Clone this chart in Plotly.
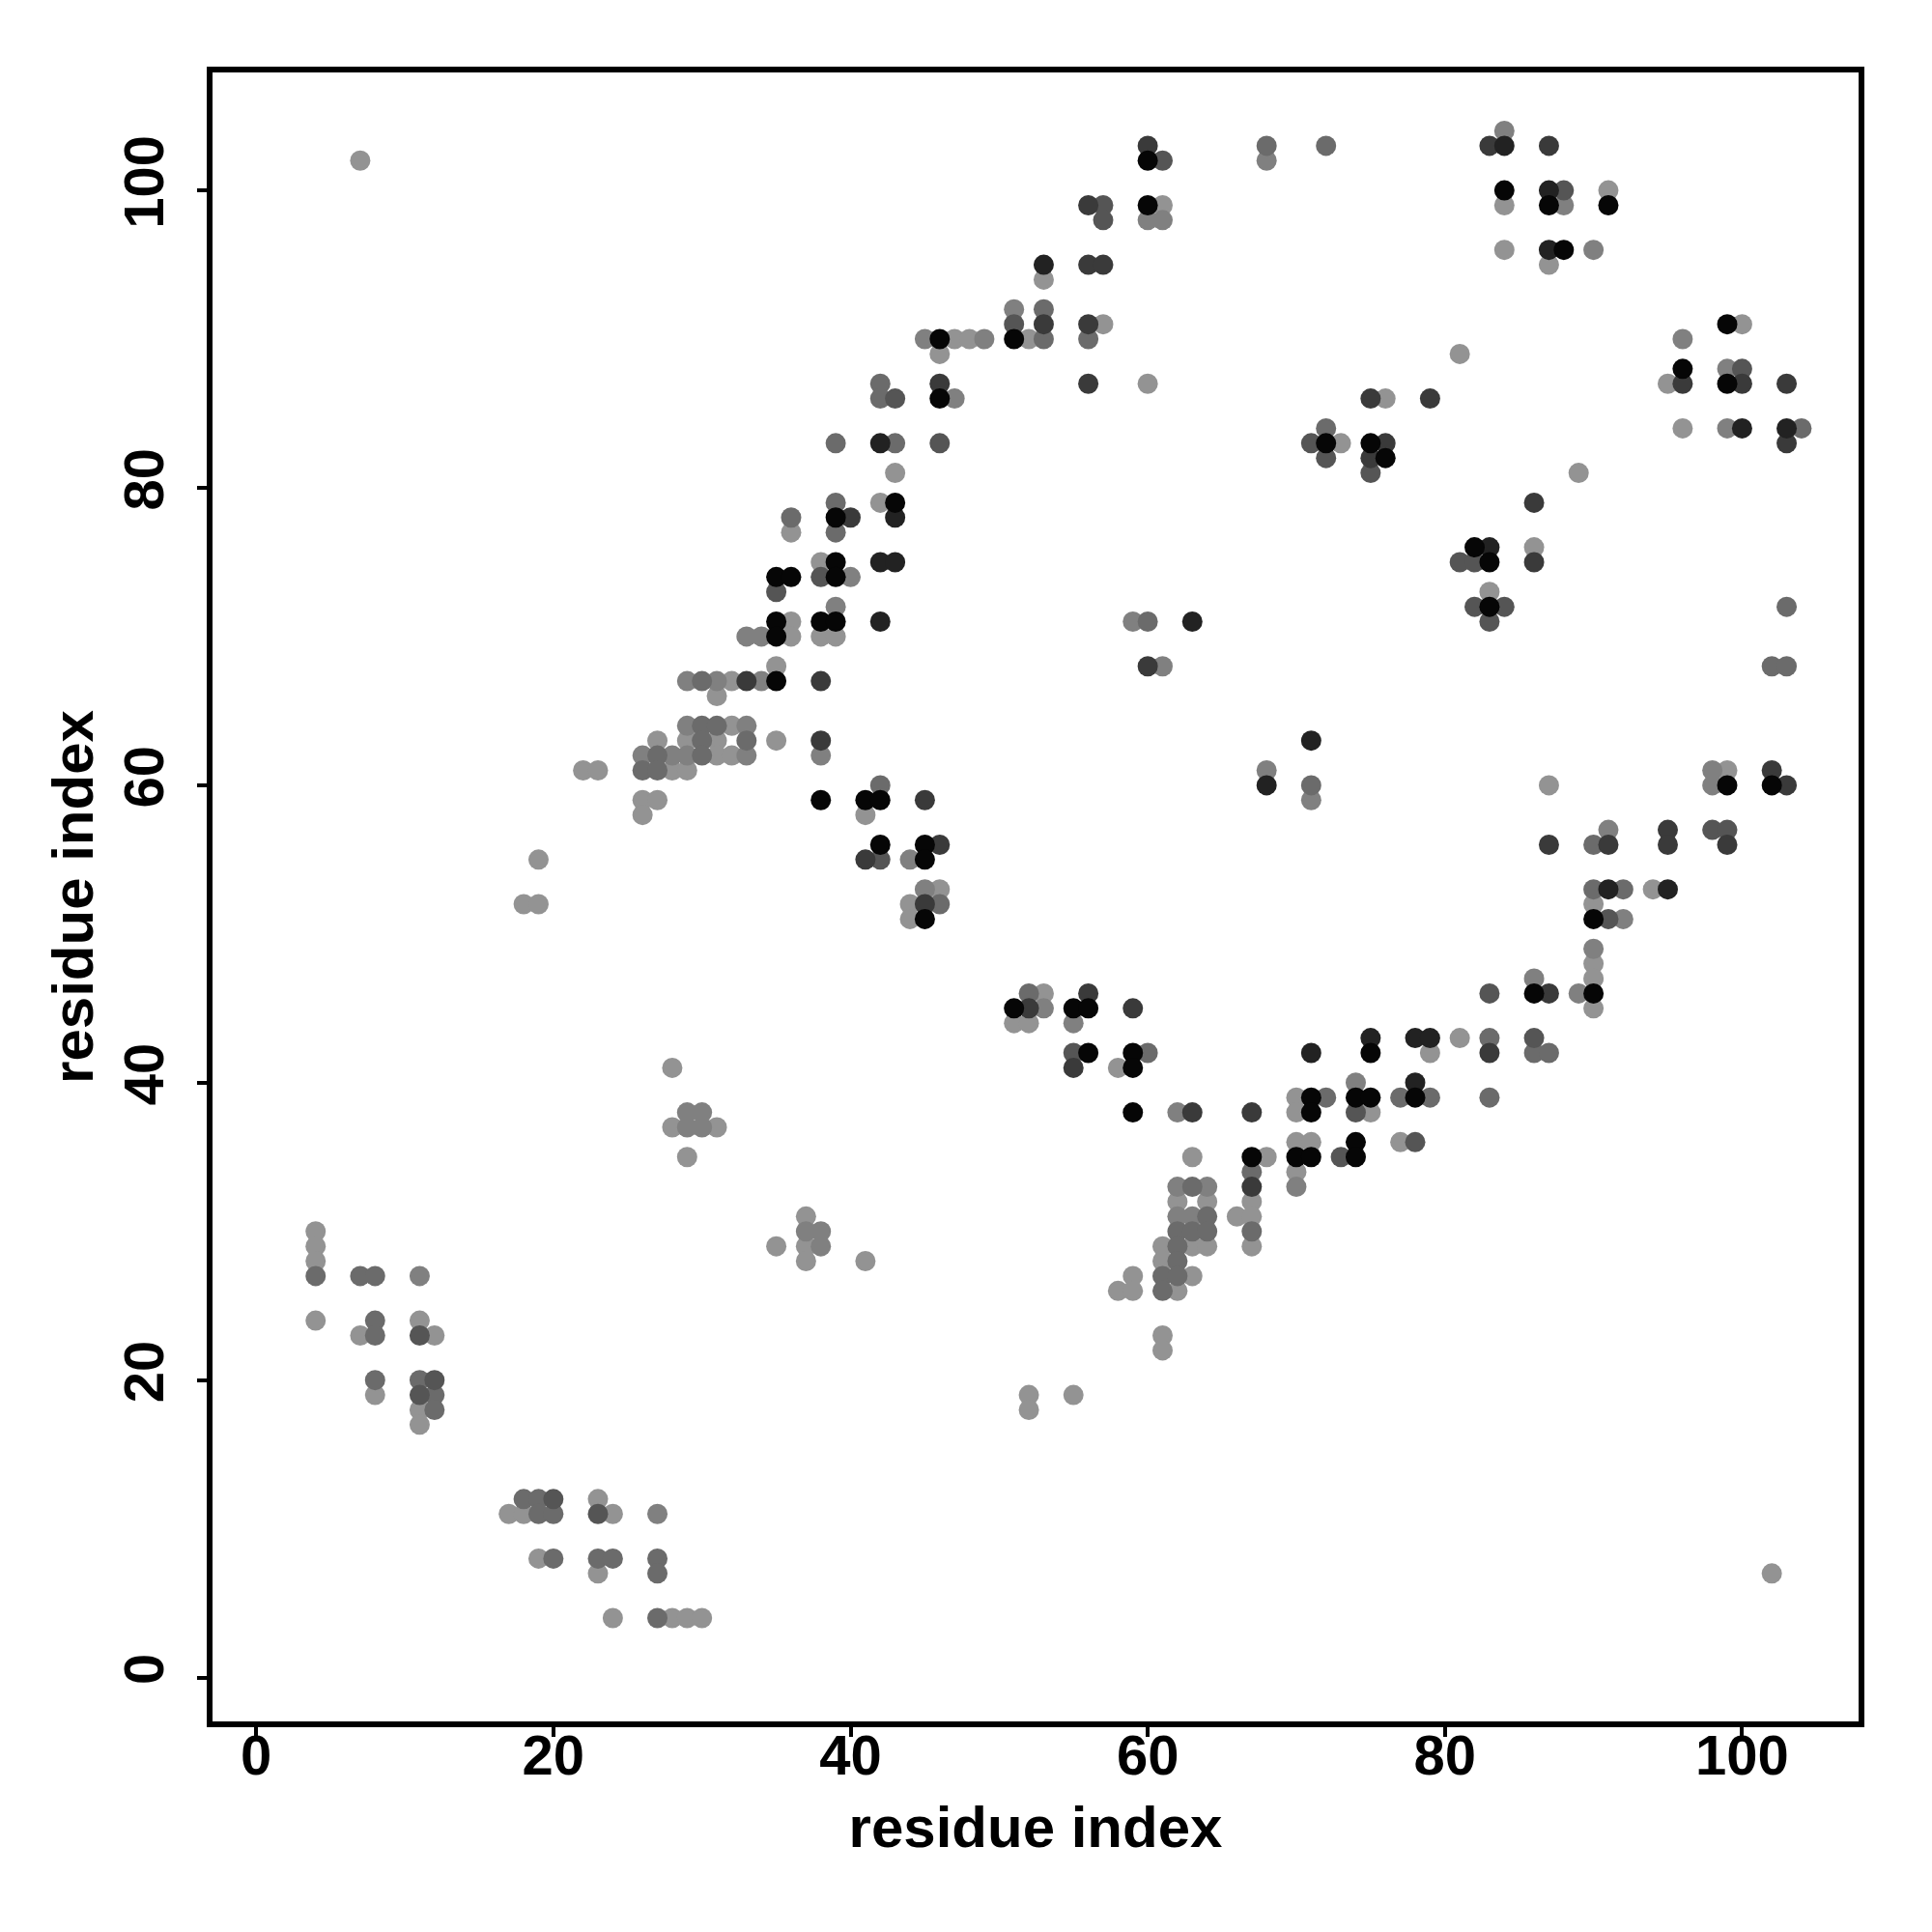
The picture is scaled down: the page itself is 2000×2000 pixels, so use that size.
import plotly.graph_objects as go

tick_values = [0, 20, 40, 60, 80, 100]
axis_label = "residue index"

# contacts by grey level: (residue i, residue j)
light = [(7,102),(61,99),(84,99),(84,96),(87,95),(53,94),(57,91),(100,91),(47,90),(48,90),(52,90),(46,89),(81,89),
 (60,87),(95,87),(96,84),(73,83),(43,81),(89,81),(42,79),(36,77),(86,76),(38,75),(83,73),(36,71),(36,70),(38,70),(39,70),
 (35,68),(32,67),(31,66),(32,64),(27,63),(29,63),(31,63),(35,63),(31,62),(32,62),(22,61),(23,61),(28,61),(29,61),
 (87,60),(26,59),(27,59),(26,58),(41,58),(19,55),(46,53),(94,53),(18,52),(19,52),(44,52),(90,52),(44,51),(90,48),(90,47),
 (53,46),(90,45),(51,44),(52,44),(81,43),(79,42),(28,41),(58,41),(70,39),(70,38),(75,38),(70,36),(71,36),(77,36),
 (29,35),(63,35),(68,35),(70,34),(62,32),(64,32),(67,32),(37,31),(66,31),(67,31),(4,30),(4,29),(35,29),(37,29),(61,29),
 (63,29),(64,29),(67,29),(4,28),(37,28),(41,28),(61,28),(59,27),(63,27),(58,26),(59,26),(62,26),(4,24),(11,24),(7,23),
 (12,23),(61,23),(61,22),(8,19),(52,19),(55,19),(11,18),(52,18),(11,17),(23,12),(17,11),(18,11),(24,11),(19,8),(23,7),
 (102,7),(24,4),(28,4),(29,4),(30,4),(28,37),(31,37),(91,100),(76,86),(99,61)]
mid_light = [(84,104),(68,102),(88,99),(60,98),(61,98),(51,92),(45,90),(49,90),(96,90),(99,88),(47,86),(99,84),(40,74),
 (39,72),(33,70),(34,70),(29,67),(34,67),(29,64),(33,64),(26,62),(28,62),(29,62),(33,62),(38,62),(59,71),(68,61),(98,61),
 (98,60),(71,59),(91,57),(45,53),(92,51),(90,49),(86,47),(89,46),(53,45),(55,44),(62,38),(29,38),(30,38),(29,37),(30,37),
 (62,33),(64,33),(70,33),(62,31),(63,31),(37,30),(38,30),(38,29),(11,27),(27,11),(61,68),(31,67),(44,55),(74,40),(90,96)]
mid = [(68,103),(72,103),(53,92),(53,90),(56,90),(42,87),(42,86),(72,84),(104,84),(39,83),(43,83),(39,79),(36,78),(39,77),
 (103,72),(102,68),(103,68),(30,67),(30,64),(31,64),(30,63),(33,63),(27,62),(30,62),(26,61),(27,61),(42,60),(71,60),(90,56),
 (90,53),(92,53),(46,52),(52,46),(83,43),(60,42),(86,42),(87,42),(72,39),(77,39),(79,39),(83,39),(67,34),(63,33),(64,31),
 (62,30),(63,30),(64,30),(67,30),(62,29),(62,28),(4,27),(7,27),(8,27),(61,27),(62,27),(61,26),(8,24),(8,23),(8,20),(11,20),
 (12,19),(12,18),(18,12),(19,12),(19,11),(20,11),(20,8),(23,8),(24,8),(27,8),(27,7),(27,4),(60,71)]
mid_dark = [(61,102),(57,99),(57,98),(51,91),(43,86),(46,83),(71,83),(72,82),(75,81),(81,75),(82,75),(82,72),(84,72),(38,74),
 (35,73),(83,71),(42,55),(98,57),(99,57),(91,51),(83,46),(86,43),(55,42),(74,38),(78,36),(73,35),(11,23),(12,20),(11,19),
 (20,12),(23,11),(88,100),(100,88)]
dark = [(60,103),(83,103),(87,103),(56,99),(56,95),(57,95),(53,91),(56,91),(46,87),(56,87),(96,87),(100,87),(103,87),(75,86),
 (79,86),(76,83),(103,83),(75,82),(86,79),(40,78),(86,75),(33,67),(38,67),(38,63),(60,68),(102,61),(103,60),(45,59),(95,57),
 (46,56),(87,56),(91,56),(95,56),(99,56),(41,55),(45,52),(56,46),(87,46),(52,45),(59,45),(83,42),(55,41),(63,38),(67,38),(67,33)]
darker = [(87,100),(87,96),(53,95),(100,84),(103,84),(42,83),(43,78),(83,76),(42,75),(43,75),(42,71),(63,71),(71,63),(68,60),
 (91,53),(95,53),(75,43),(78,43),(79,43),(71,42),(78,40),(84,103)]
black = [(60,102),(84,100),(60,99),(87,99),(91,99),(88,96),(99,91),(46,90),(51,90),(96,88),(99,87),(46,86),(72,83),(75,83),
 (76,82),(43,79),(39,78),(82,76),(39,75),(35,74),(36,74),(39,74),(83,72),(35,71),(38,71),(39,71),(35,70),(35,67),(99,60),
 (102,60),(38,59),(41,59),(42,59),(42,56),(45,56),(45,55),(45,51),(90,51),(86,46),(90,46),(51,45),(55,45),(56,45),(56,42),
 (59,42),(75,42),(59,41),(71,39),(74,39),(75,39),(78,39),(59,38),(71,38),(74,36),(67,35),(70,35),(71,35),(74,35),(83,75)]

groups = [(light, "#939393"), (mid_light, "#808080"), (mid, "#6b6b6b"), (mid_dark, "#555555"),
          (dark, "#3a3a3a"), (darker, "#222222"), (black, "#060606")]

fig = go.Figure()
for pts, col in groups:
    fig.add_trace(go.Scatter(x=[p[0] for p in pts], y=[p[1] for p in pts], mode="markers",
                             marker=dict(size=21, color=col, line=dict(width=0)), showlegend=False))

axis = dict(tickvals=tick_values, ticks="outside", ticklen=10, tickwidth=3.5, tickcolor="black",
            showline=True, linecolor="black", linewidth=6, mirror=True, showgrid=False, zeroline=False,
            tickfont=dict(family="Liberation Sans", size=58, color="black", weight="bold"))
font_t = dict(family="Liberation Sans", size=60, color="black", weight="bold")
fig.update_layout(width=2000, height=2000, autosize=False, paper_bgcolor="white", plot_bgcolor="white",
                  margin=dict(l=211.5, r=83.5, t=66.5, b=226),
                  xaxis=dict(axis, range=[-2.94, 107.84], ticklabelstandoff=-31, title=dict(text=axis_label, font=font_t, standoff=24)),
                  yaxis=dict(axis, range=[-2.95, 107.93], tickangle=-90, ticklabelstandoff=12, title=dict(text=axis_label, font=font_t, standoff=2)))
fig.write_html("out.html")
